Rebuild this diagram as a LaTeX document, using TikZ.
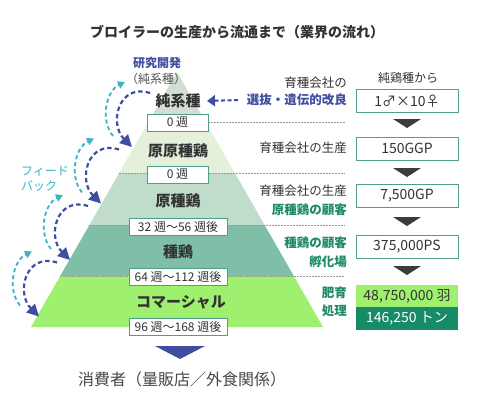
\documentclass[tikz,border=0pt]{standalone}
\usepackage{fontspec}
\setmainfont{Noto Sans CJK JP}
\usetikzlibrary{arrows.meta}
\definecolor{navy}{HTML}{3F4EA0}
\definecolor{cyanish}{HTML}{3BB3C6}
\definecolor{tealtext}{HTML}{1E8A6A}
\definecolor{boxedge}{HTML}{4F9F88}
\definecolor{bandA}{HTML}{D3DDD3}
\definecolor{bandB}{HTML}{E4F0DA}
\definecolor{bandC}{HTML}{C0DCCA}
\definecolor{bandD}{HTML}{7FBFA8}
\definecolor{bandE}{HTML}{A0F070}
\definecolor{darkgreen}{HTML}{178A68}
\definecolor{txt}{HTML}{333333}
\definecolor{tri}{HTML}{3C3C3C}
\begin{document}
\begin{tikzpicture}[x=1pt,y=-1pt,
  fs/.style={font=\fontsize{#1}{#1}\selectfont},
  fsb/.style={font=\bfseries\fontsize{#1}{#1}\selectfont},
  band/.style={fsb=15, text=txt},
  wk/.style={draw=boxedge, line width=0.8pt, fill=white, minimum height=17pt, inner sep=0pt, fs=12, text=txt},
  rbox/.style={draw=boxedge, line width=0.8pt, fill=white, minimum width=102pt, minimum height=23pt, inner sep=0pt, fs=14, text=txt},
  rlab/.style={anchor=east, fs=12.5, text=txt, inner sep=0pt},
  rlabb/.style={anchor=east, fsb=12.5, inner sep=0pt},
  sepline/.style={draw=gray!80, line width=0.6pt, dash pattern=on 1.5pt off 1.5pt},
  downtri/.style={fill=tri},
  navyarc/.style={draw=navy, line width=2.2pt, dash pattern=on 4.5pt off 3pt, -{Triangle[length=12pt,width=12pt]}},
  cyanarc/.style={draw=cyanish, line width=1.8pt, dash pattern=on 4pt off 3pt, -{Triangle[length=7pt,width=7.5pt]}},
]
\useasboundingbox (0,0) rectangle (480,415);
\fill[white] (0,0) rectangle (480,415);

% title
\node[fsb=14, text=txt, anchor=west, inner sep=0pt] (title) at (90,32) {ブロイラーの生産から流通まで（業界の流れ）};

% pyramid bands
\coordinate (apex) at (177,72);
\fill[bandA] (apex) -- (205.6,122) -- (148.4,122) -- cycle;
\fill[bandB] (148.4,122) -- (205.6,122) -- (234.8,173) -- (119.2,173) -- cycle;
\fill[bandC] (119.2,173) -- (234.8,173) -- (264.6,225) -- (89.4,225) -- cycle;
\fill[bandD] (89.4,225) -- (264.6,225) -- (293.8,276) -- (60.2,276) -- cycle;
\fill[bandE] (60.2,276) -- (293.8,276) -- (323,327) -- (31,327) -- cycle;

% separator lines
\draw[sepline] (148.4,122) -- (345,122);
\draw[sepline] (119.2,173) -- (345,173);
\draw[sepline] (89.4,225) -- (345,225);
\draw[sepline] (60.2,276) -- (345,276);

% band labels
\node[band] (b1) at (178,101) {純系種};
\node[band] (b2) at (178,151) {原原種鶏};
\node[band] (b3) at (178,201) {原種鶏};
\node[band] (b4) at (178,252) {種鶏};
\node[band] (b5) at (181,302) {コマーシャル};

% week boxes
\node[wk, minimum width=61pt] (w1) at (177.5,122.5) {0 週};
\node[wk, minimum width=61pt] (w2) at (177.5,174.5) {0 週};
\node[wk, minimum width=98pt] (w3) at (178,226.5) {32 週〜56 週後};
\node[wk, minimum width=98pt] (w4) at (178,276.5) {64 週〜112 週後};
\node[wk, minimum width=98pt] (w5) at (178,326.5) {96 週〜168 週後};

% down arrow to consumer
\fill[navy] (155,346) -- (205,346) -- (180,359) -- cycle;
\node[fs=16, text=txt!90, anchor=west, inner sep=0pt] (cons) at (78,379) {消費者（量販店／外食関係）};

% research labels
\node[fsb=12, text=navy, inner sep=0pt] (rd) at (157,63) {研究開発};
\node[fs=12, text=txt!85, inner sep=0pt] (rd2) at (156,79) {（純系種）};
\node[fs=12, text=cyanish, anchor=west, inner sep=0pt] (fb1) at (21,171) {フィード};
\node[fs=12, text=cyanish, anchor=west, inner sep=0pt] (fb2) at (21,186) {バック};

% feedback arcs
\foreach \i in {0,1,2,3}{
  \begin{scope}[shift={(-31*\i,56.5*\i)}]
    \coordinate (cs) at (113,136);
    \coordinate (ct) at (125,82);
    \coordinate (ns) at (150,93);
    \coordinate (nt) at (132,147);
    \draw[cyanarc] (cs) .. controls (100,120) and (106,91) .. (ct);
    \draw[navyarc] (ns) .. controls (118,83) and (109,124) .. (nt);
  \end{scope}
}

% selection arrow
\coordinate (selstart) at (238,100);
\draw[navy, line width=2pt, dash pattern=on 4pt off 2.5pt, -{Triangle[length=8pt,width=11pt]}] (selstart) -- ([xshift=3pt]b1.east);

% right labels
\node[fs=12, text=txt, inner sep=0pt] (hdr) at (408,78) {純鶏種から};
\node[rlab] (l1a) at (347,83) {育種会社の};
\node[rlabb, text=navy] (l1b) at (347,100) {選抜・遺伝的改良};
\node[rlab] (l2) at (347,148) {育種会社の生産};
\node[rlab] (l3a) at (347,191) {育種会社の生産};
\node[rlabb, text=tealtext] (l3b) at (347,210) {原種鶏の顧客};
\node[rlabb, text=tealtext] (l4a) at (347,243) {種鶏の顧客};
\node[rlabb, text=tealtext] (l4b) at (347,262) {孵化場};
\node[rlabb, text=tealtext] (l5a) at (347,293) {肥育};
\node[rlabb, text=tealtext] (l5b) at (347,311) {処理};

% right boxes
\node[rbox] (r1) at (407,101) {1♂×10♀};
\node[rbox] (r2) at (407,148.5) {150GGP};
\node[rbox] (r3) at (407,196) {7,500GP};
\node[rbox] (r4) at (407,246.5) {375,000PS};
\node[rbox, draw=none, fill=bandE, minimum height=22pt] (r5) at (407,296) {48,750,000 羽};
\node[rbox, draw=none, fill=darkgreen, text=white, minimum height=23pt] (r6) at (407,318.5) {146,250 トン};

% small down triangles
\foreach \y in {119,168,217,266}{
  \fill[downtri] (393,\y) -- (421,\y) -- (407,\y+9) -- cycle;
}
\end{tikzpicture}
\end{document}
